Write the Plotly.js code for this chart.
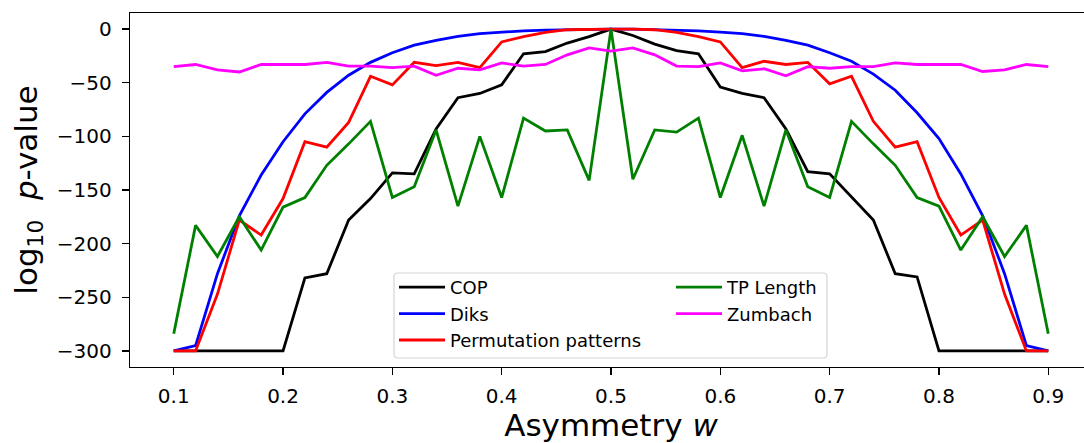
<!DOCTYPE html>
<html>
<head>
<meta charset="utf-8">
<script src="https://cdn.plot.ly/plotly-3.0.1.min.js"></script>
<style>
html, body { margin: 0; padding: 0; overflow: hidden; background: #fff; }
#chart { width: 1092px; height: 443px; }
</style>
</head>
<body>
<div id="chart"></div>
<script>
const asymmetry = [0.10,0.12,0.14,0.16,0.18,0.20,0.22,0.24,0.26,0.28,0.30,0.32,0.34,0.36,0.38,0.40,0.42,0.44,0.46,0.48,0.50,
  0.52,0.54,0.56,0.58,0.60,0.62,0.64,0.66,0.68,0.70,0.72,0.74,0.76,0.78,0.80,0.82,0.84,0.86,0.88,0.90];

const cop = [-300,-300,-300,-300,-300,-300,-232,-228,-178,-158,-134,-135,-93,-64,-60,-52,-23,-21,-13,-7,0,
  -6,-14,-20,-23,-54,-60,-64,-93,-133,-135,-157,-178,-228,-231,-300,-300,-300,-300,-300,-300];

const diks = [-300,-295,-228,-174,-136,-105,-79,-59,-43,-31,-22,-15,-10.5,-6.8,-4.3,-2.8,-1.6,-0.9,-0.4,-0.1,0,
  -0.1,-0.4,-0.9,-1.6,-2.8,-4.3,-6.8,-10.5,-15,-22,-30,-42,-57,-78,-102,-135,-174,-228,-295,-300];

const permutation = [-300,-300,-247,-178,-192,-158,-105,-110,-87,-44,-52,-31,-34,-31,-36,-12,-7,-3,-0.6,0,0,
  0,-0.6,-3,-7,-12,-36,-30,-33,-31,-51,-44,-86,-110,-105,-157,-192,-178,-247,-300,-300];

const tpLength = [-284,-183,-212,-175,-206,-166,-157,-127,-107,-86,-157,-147,-94,-165,-100,-157,-83,-95,-94,-141,0,
  -140,-94,-96,-83,-157,-99,-165,-94,-147,-157,-86,-107,-127,-157,-165,-206,-175,-212,-183,-284];

const zumbach = [-35,-33,-38,-40,-33,-33,-33,-31,-34.5,-34.5,-36,-34.5,-43,-36.5,-38,-31.5,-34.5,-33,-24,-17.5,-20.5,
  -17.5,-24,-34.5,-35,-31.5,-39,-37,-43.5,-35,-36.5,-35,-35,-31.5,-33,-33,-33,-39.5,-38,-33,-35];

const seriesNames = ["COP", "Diks", "Permutation patterns", "TP Length", "Zumbach"];
const xTicks = [0.1,0.2,0.3,0.4,0.5,0.6,0.7,0.8,0.9];
const xTickText = ["0.1","0.2","0.3","0.4","0.5","0.6","0.7","0.8","0.9"];
const yTicks = [0,-50,-100,-150,-200,-250,-300];

const colors = ["#000000", "#0000ff", "#ff0000", "#008000", "#ff00ff"];
const data = [cop, diks, permutation, tpLength, zumbach];
const legendOf = ["legend", "legend", "legend", "legend2", "legend2"];

const traces = data.map((ys, i) => ({
  type: "scatter",
  mode: "lines",
  x: asymmetry,
  y: ys,
  name: seriesNames[i],
  line: { color: colors[i], width: 2.8 },
  legend: legendOf[i],
  hoverinfo: "skip"
}));

// plot area geometry in px (for legend frame)
const L = 130, T = 13, W = 962, H = 354;
function px2x(p) { return (p - L) / W; }
function py2y(p) { return (T + H - p) / H; }
const bx0 = 394, bx1 = 827, by0 = 273, by1 = 358, r = 4;
const framePath =
  "M" + px2x(bx0 + r) + "," + py2y(by0) +
  " L" + px2x(bx1 - r) + "," + py2y(by0) +
  " Q" + px2x(bx1) + "," + py2y(by0) + " " + px2x(bx1) + "," + py2y(by0 + r) +
  " L" + px2x(bx1) + "," + py2y(by1 - r) +
  " Q" + px2x(bx1) + "," + py2y(by1) + " " + px2x(bx1 - r) + "," + py2y(by1) +
  " L" + px2x(bx0 + r) + "," + py2y(by1) +
  " Q" + px2x(bx0) + "," + py2y(by1) + " " + px2x(bx0) + "," + py2y(by1 - r) +
  " L" + px2x(bx0) + "," + py2y(by0 + r) +
  " Q" + px2x(bx0) + "," + py2y(by0) + " " + px2x(bx0 + r) + "," + py2y(by0) + " Z";

const font = "DejaVu Sans, Liberation Sans, sans-serif";

const legendCommon = {
  bgcolor: "rgba(0,0,0,0)",
  borderwidth: 0,
  font: { family: font, size: 18, color: "#000" },
  xanchor: "left",
  yanchor: "top",
  itemwidth: 46,
  tracegroupgap: 0,
  traceorder: "normal"
};

const layout = {
  width: 1092,
  height: 443,
  margin: { l: L, r: 0, t: T, b: 443 - T - H, pad: 0 },
  paper_bgcolor: "#ffffff",
  plot_bgcolor: "#ffffff",
  font: { family: font, color: "#000" },
  showlegend: true,
  xaxis: {
    range: [0.06, 0.94],
    tickvals: xTicks,
    ticktext: xTickText,
    ticks: "outside",
    ticklen: 7,
    tickwidth: 1.3,
    tickcolor: "#000",
    showline: true,
    mirror: true,
    linecolor: "#000",
    linewidth: 1.3,
    showgrid: false,
    zeroline: false,
    tickfont: { family: font, size: 20, color: "#000" },
    ticklabelstandoff: 4,
    title: { text: "Asymmetry <i>w</i>", font: { family: font, size: 31, color: "#000" }, standoff: 6 }
  },
  yaxis: {
    range: [-315, 15],
    tickvals: yTicks,
    ticks: "outside",
    ticklen: 7,
    tickwidth: 1.3,
    tickcolor: "#000",
    showline: true,
    mirror: true,
    linecolor: "#000",
    linewidth: 1.3,
    showgrid: false,
    zeroline: false,
    tickfont: { family: font, size: 20, color: "#000" },
    ticklabelstandoff: 6,
    title: { text: "log<sub>10</sub>&nbsp;&nbsp;<i>p</i>-value", font: { family: font, size: 31, color: "#000" }, standoff: 10 }
  },
  legend: Object.assign({}, legendCommon, { x: px2x(394), y: py2y(269) }),
  legend2: Object.assign({}, legendCommon, { x: px2x(671), y: py2y(269) }),
  shapes: [{
    type: "path",
    xref: "paper",
    yref: "paper",
    path: framePath,
    fillcolor: "rgba(255,255,255,0.8)",
    line: { color: "#d4d4d4", width: 1.2 },
    layer: "above"
  }]
};

Plotly.newPlot("chart", traces, layout, { displayModeBar: false, staticPlot: true });
</script>
</body>
</html>
